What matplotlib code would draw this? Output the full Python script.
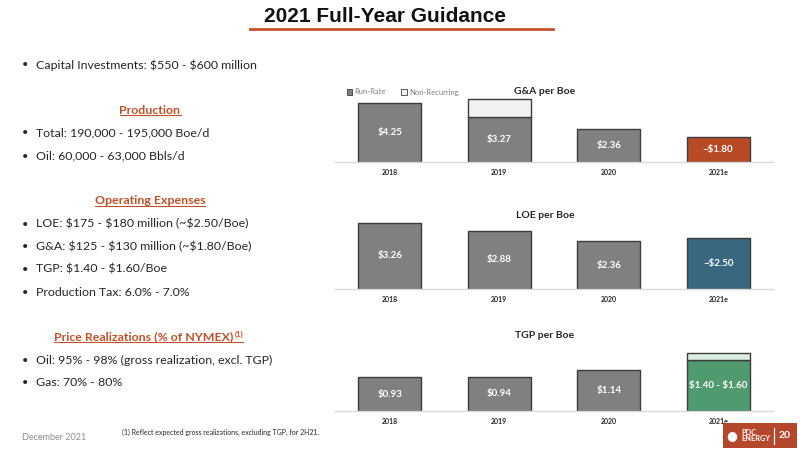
import matplotlib.pyplot as plt
from matplotlib.patches import Rectangle
from matplotlib.lines import Line2D

# Chart data
years = ['2018', '2019', '2020', '2021e']
ga_run = [4.25, 3.27, 2.36, 1.80]
ga_nonrec = [0, 1.30, 0, 0]
ga_labels = ['$4.25', '$3.27', '$2.36', '~$1.80']
loe = [3.26, 2.88, 2.36, 2.50]
loe_labels = ['$3.26', '$2.88', '$2.36', '~$2.50']
tgp_low = [0.93, 0.94, 1.14, 1.40]
tgp_range = [0, 0, 0, 0.20]
tgp_labels = ['$0.93', '$0.94', '$1.14', '$1.40 - $1.60']

# Left column text
capital = 'Capital Investments: $550 - $600 million'
production = ['Total: 190,000 - 195,000 Boe/d', 'Oil: 60,000 - 63,000 Bbls/d']
opex = ['LOE: $175 - $180 million (~$2.50/Boe)',
        'G&A: $125 - $130 million (~$1.80/Boe)',
        'TGP: $1.40 - $1.60/Boe',
        'Production Tax: 6.0% - 7.0%']
pricing = ['Oil: 95% - 98% (gross realization, excl. TGP)', 'Gas: 70% - 80%']

GRAY = '#808080'
EDGE = '#3c3c3c'
ORANGE = '#B84A26'
BLUE = '#3A6780'
GREEN = '#4F9A6E'
LIGHTGREEN = '#DCEDE2'
TXT = '#262626'
BODY = 'Lato'

W, H = 800, 450
fig = plt.figure(figsize=(8, 4.5), dpi=100)


def fx(x):
    return x / W


def fy(y):
    return 1 - y / H


def ftext(x, y, s, **kw):
    kw.setdefault('family', BODY)
    return fig.text(fx(x), fy(y), s, parse_math=False, **kw)


# Slide title
ftext(385, 16, '2021 Full-Year Guidance', ha='center', va='center',
      fontsize=15, fontweight='bold', color='#111111', family='Liberation Sans')
fig.add_artist(Line2D([fx(250), fx(553)], [fy(29), fy(29)], color='#C8502A', lw=2))


def bullet(y, s):
    ftext(22, y, '•', ha='left', va='center', fontsize=8, color=TXT)
    ftext(36, y, s, ha='left', va='center', fontsize=8.9, color=TXT)


headings = []


def heading(y, s, sup=None):
    t = ftext(150, y, s, ha='center', va='center', fontsize=8.9,
              fontweight='bold', color='#C0502A')
    headings.append((t, sup))


bullet(65, capital)
heading(110, 'Production')
for i, s in enumerate(production):
    bullet(133 + 23 * i, s)
heading(201, 'Operating Expenses')
for i, s in enumerate(opex):
    bullet(224 + 22.7 * i, s)
heading(337, 'Price Realizations (% of NYMEX)', sup='(1)')
for i, s in enumerate(pricing):
    bullet(360 + 23 * i, s)

ftext(22, 438, 'December 2021', ha='left', va='center', fontsize=6.5, color='#8c8c8c')
ftext(122, 432, '(1) Reflect expected gross realizations, excluding TGP, for 2H21.',
      ha='left', va='center', fontsize=5, color=TXT)

# underline headings
renderer = fig.canvas.get_renderer()
for t, sup in headings:
    bb = t.get_window_extent(renderer)
    if sup:
        t.set_x(t.get_position()[0] - fx(6))
        bb = t.get_window_extent(renderer)
        st = fig.text(bb.x1 / W + 0.001, bb.y1 / H + 0.002, sup, ha='left', va='top',
                      fontsize=5.5, fontweight='bold', color='#C0502A', family=BODY)
        x1 = st.get_window_extent(renderer).x1
    else:
        x1 = bb.x1
    fig.add_artist(Line2D([bb.x0 / W, x1 / W], [bb.y0 / H + 0.001, bb.y0 / H + 0.001],
                          color='#C0502A', lw=0.8))

# Bar charts
left, width = fx(335), (773 - 335) / W
bw = 0.575
xs = list(range(len(years)))


def setup(ax, ymax, name, title_y):
    ax.set_xlim(-0.5, 3.5)
    ax.set_ylim(0, ymax)
    for s in ['top', 'right', 'left']:
        ax.spines[s].set_visible(False)
    ax.spines['bottom'].set_color('#d9d9d9')
    ax.spines['bottom'].set_linewidth(1)
    ax.set_yticks([])
    ax.set_xticks(xs)
    ax.set_xticklabels(years, fontsize=5, fontweight='bold', color=TXT, family=BODY)
    ax.tick_params(axis='x', length=0, pad=5)
    ax.patch.set_alpha(0)
    ftext(545, title_y, name, ha='center', va='center', fontsize=7.5,
          fontweight='bold', color=TXT)


def labels(ax, heights, texts):
    for x, h, s in zip(xs, heights, texts):
        ax.text(x, h / 2, s, ha='center', va='center', fontsize=7, fontweight='bold',
                color='white', family=BODY, parse_math=False)


# G&A per Boe
ax1 = fig.add_axes([left, fy(162), width, 69 / H])
ga_colors = [GRAY, GRAY, GRAY, ORANGE]
ax1.bar(xs, ga_run, bw, color=ga_colors, edgecolor=EDGE, linewidth=1, label='Run-Rate')
ax1.bar(xs[1], ga_nonrec[1], bw, bottom=ga_run[1], color='#f2f2f2', edgecolor=EDGE,
        linewidth=1, label='Non-Recurring')
setup(ax1, 5.0, 'G&A per Boe', 92)
labels(ax1, ga_run, ga_labels)
handles = [Rectangle((0, 0), 1, 1, facecolor=GRAY, edgecolor=EDGE, lw=0.6),
           Rectangle((0, 0), 1, 1, facecolor='#f2f2f2', edgecolor=EDGE, lw=0.6)]
fig.legend(handles, ['Run-Rate', 'Non-Recurring'], loc='center left',
           bbox_to_anchor=(fx(340), fy(92)), ncol=2, frameon=False,
           prop={'family': BODY, 'size': 5.5}, labelcolor='#7f7f7f',
           handlelength=0.7, handleheight=0.7, handletextpad=0.3, columnspacing=2.0)

# LOE per Boe
ax2 = fig.add_axes([left, fy(289), width, 71 / H])
ax2.bar(xs, loe, bw, color=[GRAY, GRAY, GRAY, BLUE], edgecolor=EDGE, linewidth=1)
setup(ax2, 3.5, 'LOE per Boe', 215)
labels(ax2, loe, loe_labels)

# TGP per Boe
ax3 = fig.add_axes([left, fy(411), width, 65.5 / H])
ax3.bar(xs, tgp_low, bw, color=[GRAY, GRAY, GRAY, GREEN], edgecolor=EDGE, linewidth=1)
ax3.bar(xs[3], tgp_range[3], bw, bottom=tgp_low[3], color=LIGHTGREEN, edgecolor=EDGE,
        linewidth=1)
setup(ax3, 1.8, 'TGP per Boe', 336)
labels(ax3, tgp_low, tgp_labels)

# Logo box
fig.add_artist(Rectangle((fx(723), fy(448)), (797 - 723) / W, 25 / H,
                         facecolor='#B5472A', edgecolor='none', transform=fig.transFigure))
ftext(741, 435.5, 'PDC\nENERGY', ha='left', va='center', fontsize=5.3,
      fontweight='bold', color='white', linespacing=0.85)
ftext(732, 435.5, '●', ha='center', va='center', fontsize=9, color='white',
      family='DejaVu Sans')
fig.add_artist(Line2D([fx(774), fx(774)], [fy(428), fy(444)], color='white', lw=0.9))
ftext(785, 435.5, '20', ha='center', va='center', fontsize=7.5,
      fontweight='bold', color='white')

fig.savefig('out.png', dpi=100)
